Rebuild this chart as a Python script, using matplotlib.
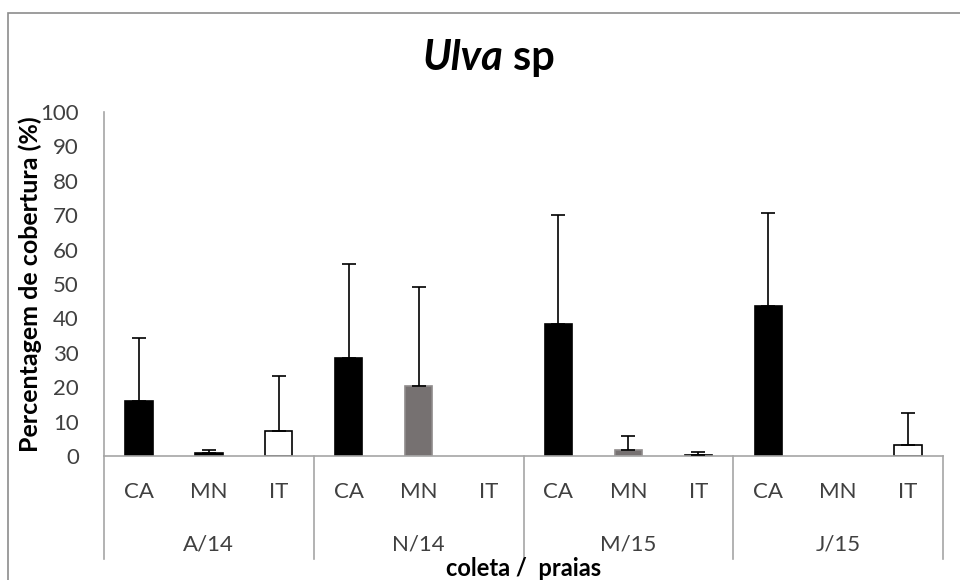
import numpy as np
import matplotlib
matplotlib.use('Agg')
import matplotlib.pyplot as plt
from matplotlib.patches import Rectangle
import matplotlib.transforms as mtransforms

plt.rcParams['font.family'] = ['Lato', 'DejaVu Sans']

coletas = ['A/14', 'N/14', 'M/15', 'J/15']
praias = ['CA', 'MN', 'IT']
# cobertura media (%) e desvio padrao, na ordem coleta -> praia
cobertura = [16.0, 0.8, 7.4, 28.4, 20.4, 0.0, 38.4, 1.7, 0.3, 43.6, 0.0, 3.2]
desvio = [18.2, 0.9, 15.9, 27.4, 28.7, 0.0, 31.6, 4.1, 1.0, 27.1, 0.0, 9.3]

cor_praia = {'CA': 'black', 'MN': '#767171', 'IT': 'white'}
borda_praia = {'CA': 'black', 'MN': '#8f8b8b', 'IT': 'black'}

W, H = 960, 580
fig = plt.figure(figsize=(W / 100, H / 100), dpi=100)
ax = fig.add_axes([104 / W, 1 - 456 / H, (943 - 104) / W, (456 - 112) / H])

n = len(coletas) * len(praias)
x = np.arange(n)
rotulos = praias * len(coletas)
faces = [cor_praia[p] for p in rotulos]
bordas = [borda_praia[p] if v > 0 else 'none' for p, v in zip(rotulos, cobertura)]
faces[1] = 'black'  # MN em A/14 aparece preenchida de preto
bordas[1] = 'black'

ax.bar(x, cobertura, width=0.39, color=faces, edgecolor=bordas, linewidth=1.2, zorder=2)

for xi, m, d in zip(x, cobertura, desvio):
    if d > 0:
        ax.errorbar(xi, m, yerr=[[0], [d]], fmt='none', ecolor='black',
                    elinewidth=1.2, capsize=4.8, capthick=1.2, zorder=3)

ax.set_xlim(-0.5, n - 0.5)
ax.set_ylim(0, 100)
ax.set_yticks(np.arange(0, 101, 10))
ax.tick_params(axis='y', length=0, pad=18, labelsize=16, labelcolor='#404040')
ax.set_xticks(x)
ax.set_xticklabels(rotulos)
ax.tick_params(axis='x', length=0, pad=19, labelsize=16, labelcolor='#404040')

for s in ['top', 'right']:
    ax.spines[s].set_visible(False)
for s in ['left', 'bottom']:
    ax.spines[s].set_color('#a6a6a6')
    ax.spines[s].set_linewidth(1.2)

# divisorias entre coletas, descendo abaixo do eixo
trans = mtransforms.blended_transform_factory(ax.transData, ax.transAxes)
for k in range(len(coletas) + 1):
    xs = k * len(praias) - 0.5
    ax.plot([xs, xs], [0, -0.299], transform=trans, color='#a6a6a6',
            lw=1.2, clip_on=False)
for k, c in enumerate(coletas):
    ax.text(k * len(praias) + 1, -0.256, c, transform=trans, ha='center',
            va='center', fontsize=16, color='#404040')

fig.text(503 / W, 1 - 70 / H, 'Ulva', fontsize=30, fontweight='bold',
         fontstyle='italic', ha='right', va='baseline')
fig.text(513 / W, 1 - 70 / H, 'sp', fontsize=30, fontweight='bold',
         ha='left', va='baseline')
fig.text(30 / W, 1 - 284 / H, 'Percentagem de cobertura (%)', rotation=90,
         fontsize=18, fontweight='bold', ha='center', va='center')
fig.text(524 / W, 1 - 568 / H, 'coleta /  praias', fontsize=17,
         fontweight='bold', ha='center', va='center')

fig.patches.append(Rectangle((8 / W, -0.1), 1.1, 1 - 13 / H + 0.1,
                             transform=fig.transFigure, fill=False,
                             edgecolor='#8c8c8c', lw=1.2))

fig.savefig('out.png', dpi=100)
